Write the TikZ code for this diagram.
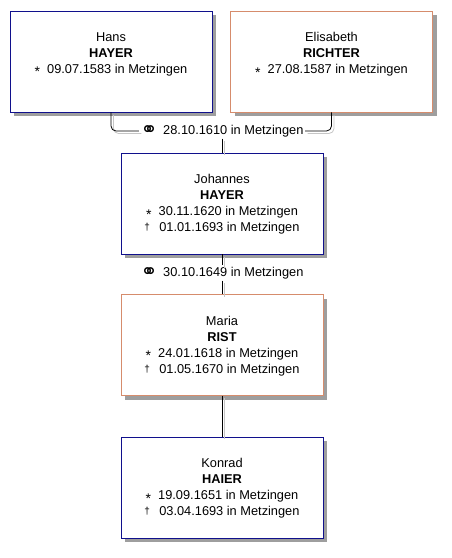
\documentclass[tikz,border=0pt]{standalone}
\usepackage{fontspec}
\setmainfont{Liberation Sans}
\newfontfamily\symfont{DejaVu Sans}
\usetikzlibrary{shadows}
\definecolor{mancol}{RGB}{16,16,140}
\definecolor{womancol}{RGB}{214,140,108}
\newcommand{\card}[1]{\begin{minipage}[c][58pt][t]{190pt}\centering#1\end{minipage}}
\newcommand{\bornmark}{\smash{\fontsize{14}{14}\selectfont\raisebox{-.45ex}{*}}\ \ }
\newcommand{\diedmark}{\smash{\fontsize{10}{10}\selectfont\raisebox{.15ex}{†}}\ \ \,}
\newcommand{\wedmark}{\smash{\symfont\raisebox{-.35ex}{\resizebox{17pt}{!}{⚭}}}\ \,}
\begin{document}
\begin{tikzpicture}[x=1pt,y=-1pt,font=\fontsize{12.8}{16}\selectfont,
person/.style={draw,line width=.9pt,fill=white,minimum width=202pt,minimum height=101pt,drop shadow={shadow xshift=4pt,shadow yshift=-4pt,fill=black!38,opacity=1}},
man/.style={person,draw=mancol},woman/.style={person,draw=womancol},
wed/.style={inner sep=1.5pt},
link/.style={line width=.8pt,preaction={draw,gray!45,line width=.8pt,transform canvas={shift={(2.5pt,-2.5pt)}}}}]
\useasboundingbox(0,0)rectangle(452,558);
\node[man](hans)at(111,61.5){\card{Hans\\\textbf{HAYER}\\\bornmark09.07.1583 in Metzingen}};
\node[woman](elisabeth)at(331.5,61.5){\card{Elisabeth\\\textbf{RICHTER}\\\bornmark27.08.1587 in Metzingen}};
\node[wed](wed1)at(222,131){\wedmark28.10.1610 in Metzingen};
\node[man](johannes)at(222,203.5){\card{Johannes\\\textbf{HAYER}\\\bornmark30.11.1620 in Metzingen\\\diedmark01.01.1693 in Metzingen}};
\node[wed](wed2)at(222,273){\wedmark30.10.1649 in Metzingen};
\node[woman](maria)at(222,345){\card{Maria\\\textbf{RIST}\\\bornmark24.01.1618 in Metzingen\\\diedmark01.05.1670 in Metzingen}};
\node[man](konrad)at(222,487.5){\card{Konrad\\\textbf{HAIER}\\\bornmark19.09.1651 in Metzingen\\\diedmark03.04.1693 in Metzingen}};
\draw[link,rounded corners=5pt](hans.south)|-(wed1.west);\draw[link,rounded corners=5pt](wed1.east)-|(elisabeth.south);
\draw[link](wed1.south)--(johannes.north);
\draw[link](johannes.south)--(wed2.north);\draw[link](wed2.south)--(maria.north);
\draw[link](maria.south)--(konrad.north);
\end{tikzpicture}
\end{document}
